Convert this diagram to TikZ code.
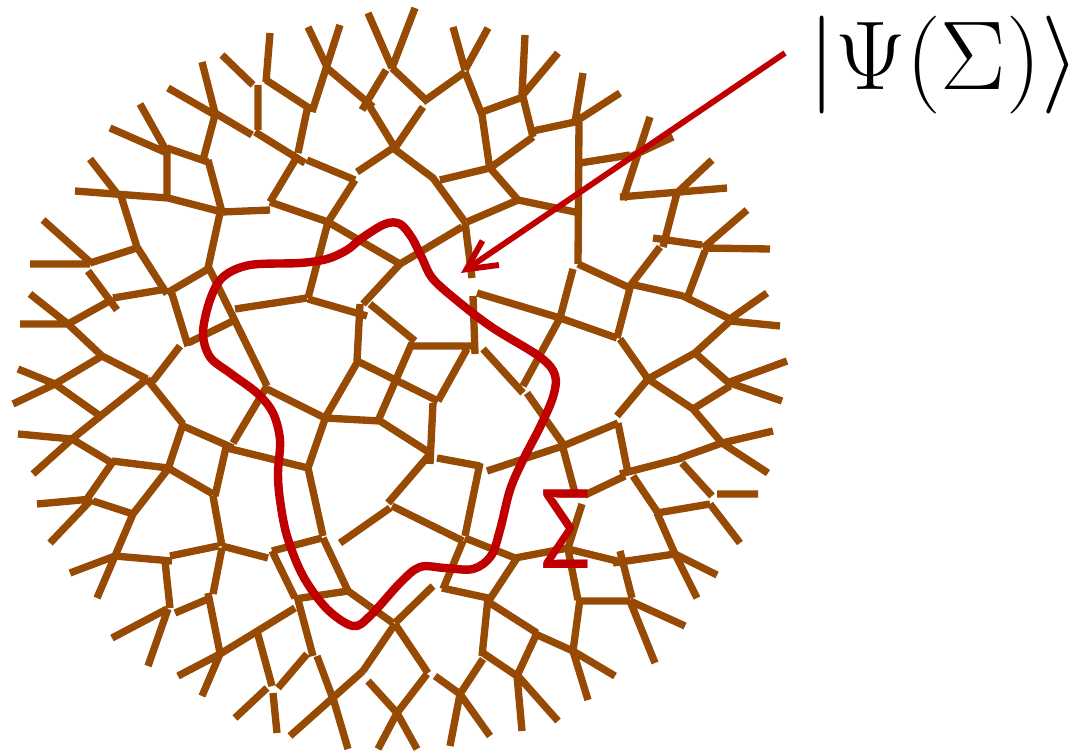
\documentclass[tikz,border=0pt]{standalone}
\usepackage{fontspec}
\usetikzlibrary{arrows.meta}
\newfontfamily\sigfont{Carlito}
\definecolor{tnbrown}{HTML}{964A04}
\definecolor{tnred}{HTML}{C00000}
\tikzset{
  seg/.style={draw=tnbrown, line width=5.5pt, line cap=butt},
  surface/.style={draw=tnred, line width=6.3pt, line join=round},
  pointer/.style={draw=tnred, line width=4.4pt, -{Straight Barb[length=22pt,width=22pt,line width=4.4pt]}},
}
\begin{document}
\begin{tikzpicture}[x=0.75pt,y=-0.75pt]
\useasboundingbox (0,0) rectangle (1078,752);
\path[seg]
(43,220)--(90,262) (30,264)--(90,264) (90,159)--(118,195) (75,191)--(168,198)
(120,193)--(137,247) (90,263)--(137,248) (137,247)--(167,294) (110,128)--(167,153)
(140,104)--(167,152) (167,148)--(167,197) (167,148)--(208,162) (168,198)--(222,212)
(208,160)--(222,212) (202,62)--(215,113) (168,88)--(215,115) (215,115)--(203,160)
(215,113)--(252,135) (222,55)--(253,85) (258,85)--(258,130) (270,33)--(266,82)
(222,212)--(270,210) (220,213)--(208,268) (255,132)--(305,163) (266,80)--(312,110)
(308,27)--(327,67) (340,25)--(312,112) (327,68)--(373,107) (362,110)--(386,70)
(368,13)--(392,68) (415,8)--(392,68) (392,68)--(428,102) (423,107)--(395,148)
(370,107)--(395,148) (453,27)--(465,70) (488,28)--(465,70) (465,72)--(423,102)
(465,72)--(482,115) (525,35)--(522,95) (558,53)--(522,96) (482,112)--(523,97)
(523,97)--(533,137) (482,115)--(490,170) (490,168)--(533,137) (533,131)--(575,122)
(575,122)--(583,73) (575,122)--(620,93) (579,122)--(578,264) (440,180)--(490,168)
(490,168)--(518,200) (393,148)--(433,178)--(465,222) (467,222)--(518,200)
(518,200)--(575,212) (465,222)--(472,278) (462,227)--(400,264) (393,148)--(357,172)
(307,160)--(355,180) (297,157)--(270,202) (270,202)--(328,222) (355,180)--(328,222)
(328,222)--(308,298) (328,222)--(400,264) (307,110)--(298,153) (580,163)--(630,155)
(650,117)--(623,200) (630,157)--(673,137) (620,197)--(727,188) (712,160)--(677,193)
(677,193)--(663,247) (653,238)--(702,245) (747,210)--(703,248) (703,248)--(770,249)
(660,247)--(630,286) (88,271)--(117,310) (113,298)--(167,289) (30,294)--(68,324)
(20,324)--(68,324) (68,324)--(113,299) (68,324)--(102,356) (167,293)--(208,269)
(208,266)--(267,386) (172,294)--(188,346) (188,343)--(233,321) (235,309)--(307,298)
(180,346)--(153,381) (102,356)--(147,379) (102,356)--(55,384) (18,369)--(55,384)
(13,404)--(55,384) (55,384)--(103,418) (147,379)--(103,414) (103,414)--(72,439)
(147,379)--(183,424) (183,424)--(168,469) (183,426)--(233,448) (18,434)--(72,439)
(72,439)--(33,474) (72,439)--(112,463) (112,461)--(168,468) (112,463)--(87,499)
(168,468)--(213,494) (168,469)--(133,514) (233,443)--(267,386) (227,443)--(215,496)
(227,448)--(308,468) (37,504)--(92,499) (308,299)--(367,316) (360,304)--(357,361)
(363,304)--(400,264) (370,304)--(415,341) (412,346)--(475,346) (473,296)--(475,354)
(477,293)--(560,318) (412,343)--(378,421) (467,349)--(438,401) (357,361)--(438,401)
(358,361)--(325,418) (267,389)--(325,418) (325,418)--(380,421) (380,421)--(430,453)
(433,403)--(430,464) (325,419)--(308,468) (308,468)--(323,536) (430,454)--(388,503)
(437,458)--(480,466) (480,463)--(465,536) (487,471)--(563,446) (483,349)--(523,393)
(560,318)--(523,386) (527,393)--(563,444) (578,264)--(630,288) (630,284)--(683,296)
(705,251)--(688,296) (683,296)--(730,319) (730,319)--(767,293) (730,321)--(780,326)
(730,321)--(695,353) (695,353)--(648,379) (695,353)--(730,384) (727,383)--(787,361)
(730,383)--(782,401) (730,386)--(693,409) (648,379)--(693,409) (693,409)--(722,443)
(722,443)--(773,431) (722,443)--(768,473) (722,443)--(680,458) (682,458)--(620,474)
(682,463)--(712,496) (717,494)--(758,494) (630,288)--(617,338) (617,338)--(560,318)
(573,269)--(560,318) (620,339)--(648,379) (648,379)--(617,416) (563,446)--(618,423)
(618,423)--(628,473) (563,448)--(575,493) (625,476)--(585,495) (633,476)--(658,513)
(92,499)--(50,543) (93,501)--(133,514) (133,514)--(115,556) (70,573)--(115,556)
(115,556)--(97,598) (115,556)--(172,561) (165,561)--(170,608) (170,556)--(218,546)
(213,496)--(222,546) (222,546)--(268,558) (222,548)--(213,594) (175,613)--(208,599)
(208,593)--(220,653) (167,609)--(112,638) (168,609)--(148,666) (220,654)--(178,676)
(220,654)--(202,696) (220,654)--(295,608) (257,631)--(272,686) (267,688)--(235,718)
(272,551)--(322,538) (323,538)--(348,591) (272,551)--(295,598) (295,599)--(348,591)
(348,591)--(393,623) (297,596)--(313,656) (273,693)--(277,733) (307,654)--(278,688)
(317,656)--(333,699) (363,671)--(290,736) (333,698)--(348,749) (340,543)--(390,508)
(392,506)--(463,541) (463,541)--(443,589) (465,538)--(515,558) (515,558)--(568,548)
(517,558)--(490,599) (442,588)--(488,598) (488,598)--(482,656) (490,603)--(537,633)
(433,586)--(395,623) (395,624)--(363,671) (395,624)--(428,673) (368,681)--(397,713)
(397,713)--(427,674) (397,713)--(378,749) (397,713)--(417,749) (435,676)--(460,694)
(460,694)--(490,736) (460,694)--(483,659) (460,694)--(450,746) (483,653)--(517,676)
(517,676)--(537,633) (517,676)--(522,731) (518,676)--(558,721) (582,504)--(568,548)
(568,549)--(578,600) (568,549)--(617,561) (620,551)--(632,598) (613,563)--(675,554)
(657,513)--(675,554) (657,513)--(710,504) (710,504)--(740,543) (675,554)--(717,575)
(675,554)--(697,598) (580,601)--(630,601) (630,601)--(685,626) (630,601)--(655,663)
(580,599)--(573,651) (533,633)--(573,651) (573,651)--(615,676) (573,651)--(588,700);
\draw[surface] plot[smooth cycle, tension=0.55] coordinates {
(203,333) (210,300) (223,277) (250,265) (300,263) (327,259) (347,250) (362,238)
(385,224) (400,224) (412,238) (422,258) (433,279) (460,303) (493,328) (540,357)
(555,375) (553,397) (540,427) (523,460) (510,490) (500,530) (491,556) (473,569)
(445,568) (420,567) (400,583) (370,616) (353,626) (327,609) (303,576) (287,536)
(280,500) (278,473) (280,440) (273,413) (257,393) (230,373) (210,357)};
\coordinate (arrowstart) at (785,53);
\coordinate (arrowtip) at (461,273);
\draw[pointer] (arrowstart) -- (arrowtip);
\node[anchor=base west, inner sep=0pt, scale=2.95, font=\fontsize{24.88}{26}\selectfont] (state) at (808,90) {$|\Psi(\Sigma)\rangle$};
\node[text=tnred, inner sep=0pt, xscale=0.9, font=\sigfont\fontsize{92}{94}\selectfont] (sigma) at (566,529) {Σ};
\end{tikzpicture}
\end{document}
